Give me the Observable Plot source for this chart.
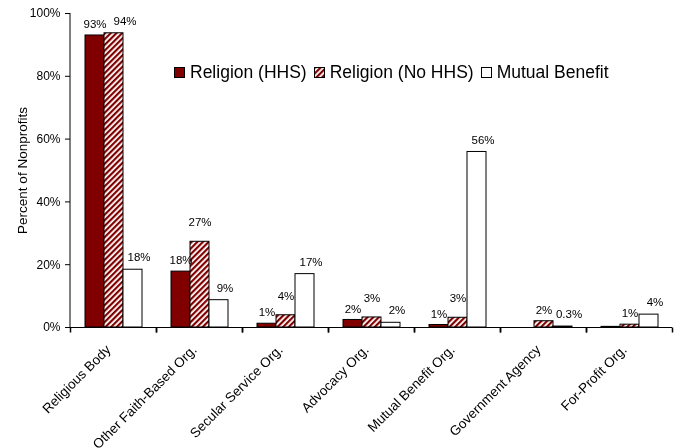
<!DOCTYPE html>
<html><head><meta charset="utf-8">
<script src="https://cdn.jsdelivr.net/npm/d3@7"></script>
<script src="https://cdn.jsdelivr.net/npm/@observablehq/plot@0.6"></script>
<style>
body{margin:0;background:#fff;font-family:"Liberation Sans",Arial,sans-serif;}
#wrap{position:relative;width:681px;height:448px;overflow:hidden;}
#wrap > svg{will-change:transform;}
#legend{position:absolute;left:174px;top:62px;display:flex;align-items:center;font-size:17.5px;color:#000;white-space:nowrap;}
.item{display:flex;align-items:center;margin-right:7px}
.item svg{margin-right:5px;display:block}
</style></head><body><div id="wrap"><div id="legend"></div></div>
<script>
const categories = ["Religious Body","Other Faith-Based Org.","Secular Service Org.","Advocacy Org.","Mutual Benefit Org.","Government Agency","For-Profit Org."];
const series = ["Religion (HHS)","Religion (No HHS)","Mutual Benefit"];
const hhs    = [93.0, 17.8, 1.2, 2.4, 0.8, 0, 0.2];
const noHhs  = [93.7, 27.3, 3.9, 3.2, 3.1, 2.0, 0.9];
const mutual = [18.4, 8.7, 17.0, 1.5, 55.9, 0.3, 4.1];
const hhsLabels    = ["93%","18%","1%","2%","1%","",""];
const noHhsLabels  = ["94%","27%","4%","3%","3%","2%","1%"];
const mutualLabels = ["18%","9%","17%","2%","56%","0.3%","4%"];
const yTicks = [0,20,40,60,80,100];
const fills = ["#800000","url(#hatch)","#ffffff"];

const values = [hhs, noHhs, mutual];
const labels = [hhsLabels, noHhsLabels, mutualLabels];
const data = categories.flatMap((c,i)=>series.map((s,j)=>({category:c, series:s, value:values[j][i], label:labels[j][i], i, j})));

const tickSym = {draw(ctx){ ctx.moveTo(0,0); ctx.lineTo(0,5); }};
const hasL = d => d.label !== "";
const lifted = d => d.j===1 && hhsLabels[d.i]!=="" && d.value<50;
const crowdedTop = d => d.j===1 && hhsLabels[d.i]!=="" && d.value>=50;
const font = "Liberation Sans, Arial, sans-serif";
const txt = {fx:"category", x:"series", y:"value", text:"label", fontSize:11.5, fill:"#000"};

// vertical y-axis line, drawn once (first facet only)
let axisLineDrawn = false;
const yAxisLine = (index, {y}, values, dims) => {
  if (axisLineDrawn) return null;
  axisLineDrawn = true;
  const line = document.createElementNS("http://www.w3.org/2000/svg","line");
  line.setAttribute("x1", dims.marginLeft); line.setAttribute("x2", dims.marginLeft);
  line.setAttribute("y1", y(d3.max(yTicks))); line.setAttribute("y2", y(0));
  line.setAttribute("stroke", "#000");
  return line;
};

const chart = Plot.plot({
  width:681, height:448,
  marginLeft:69, marginRight:8, marginTop:13, marginBottom:121,
  style:{fontFamily:font, fontSize:"12px", color:"#000", background:"transparent", overflow:"visible"},
  fx:{domain:categories, padding:0, label:null},
  x:{domain:series, paddingInner:0, paddingOuter:0.73, axis:null},
  y:{domain:[0,100]},
  color:{domain:series, range:fills},
  marks:[
    Plot.axisY({ticks:yTicks, tickFormat:d=>d+"%", tickSize:5, tickPadding:5, label:"Percent of Nonprofits", labelAnchor:"center", labelArrow:"none", labelOffset:53, fontSize:12}),
    Plot.axisFx({anchor:"bottom", tickSize:0, tickRotate:-45, tickPadding:20, dx:-5, label:null, fontSize:13.5}),
    Plot.barY(data, {fx:"category", x:"series", y:"value", fill:"series", stroke:"#000", strokeWidth:1}),
    Plot.ruleY([0], {stroke:"#000"}),
    yAxisLine,
    Plot.dot(categories, {fx:d=>d, frameAnchor:"bottom-left", symbol:tickSym, stroke:"#000", fill:"none"}),
    Plot.dot(categories, {fx:d=>d, frameAnchor:"bottom-right", symbol:tickSym, stroke:"#000", fill:"none"}),
    Plot.text(data.filter(d=>hasL(d) && d.j===0), {...txt, dy:-11}),
    Plot.text(data.filter(d=>hasL(d) && d.j===1 && !lifted(d) && !crowdedTop(d)), {...txt, dy:-11}),
    Plot.text(data.filter(d=>hasL(d) && crowdedTop(d)), {...txt, dy:-12, dx:11}),
    Plot.text(data.filter(d=>hasL(d) && lifted(d)), {...txt, dy:-19}),
    Plot.text(data.filter(d=>hasL(d) && d.j===2), {...txt, dy:-12, dx:6})
  ]
});

d3.select(chart).select('g[aria-label="y-axis label"]').attr("font-size", 13.5);

const defs = d3.select(chart).insert("defs", ":first-child");
const pat = defs.append("pattern").attr("id","hatch").attr("patternUnits","userSpaceOnUse")
  .attr("width",4).attr("height",4).attr("patternTransform","rotate(45)");
pat.append("rect").attr("width",4).attr("height",4).attr("fill","#ffffff");
pat.append("rect").attr("width",2.2).attr("height",4).attr("fill","#800000");

document.getElementById("wrap").prepend(chart);

const legend = d3.select("#legend");
series.forEach((s,j)=>{
  const it = legend.append("div").attr("class","item");
  const sv = it.append("svg").attr("width",11).attr("height",11);
  sv.append("rect").attr("x",0.5).attr("y",0.5).attr("width",10).attr("height",10).attr("fill",fills[j]).attr("stroke","#000");
  it.append("span").text(s);
});
</script></body></html>
